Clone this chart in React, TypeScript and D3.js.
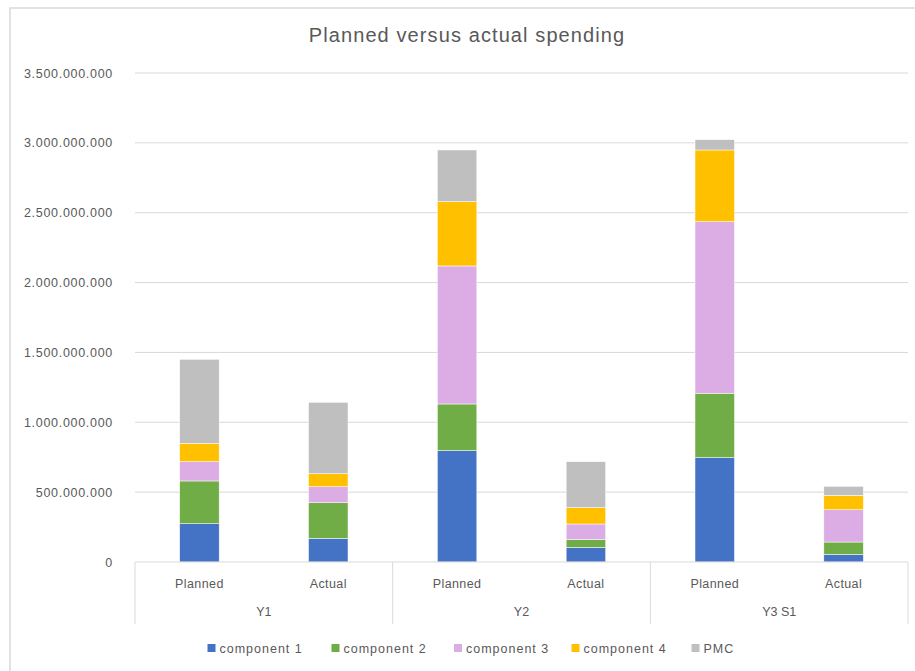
import React from "react";
import * as d3 from "d3";

const groups = ["Y1", "Y2", "Y3 S1"];
const kinds = ["Planned", "Actual"];
const seriesNames = ["component 1", "component 2", "component 3", "component 4", "PMC"];
const colors = ["#4472C4", "#70AD47", "#DCADE5", "#FFC000", "#BFBFBF"];
const yTicks = [0, 500000000, 1000000000, 1500000000, 2000000000, 2500000000, 3000000000, 3500000000];

// values in millions, order: Y1 Planned, Y1 Actual, Y2 Planned, Y2 Actual, Y3 S1 Planned, Y3 S1 Actual
const component1 = [274, 170, 797, 105, 747, 55];
const component2 = [306, 254, 334, 55, 461, 88];
const component3 = [138, 115, 988, 112, 1228, 231];
const component4 = [132, 93, 460, 117, 513, 103];
const pmc = [601, 511, 370, 329, 74, 65];

const W = 915;
const H = 671;
const left = 135;
const right = 908;
const top = 73;
const bottom = 562;
const font = "'Liberation Sans', Arial, sans-serif";
const textColor = "#595959";

export default function App() {
  const seriesArrays = [component1, component2, component3, component4, pmc];
  const rows = groups.flatMap((g, gi) =>
    kinds.map((k, ki) => {
      const idx = gi * 2 + ki;
      const row: any = { key: `${g}|${k}`, group: g, kind: k };
      seriesNames.forEach((s, si) => (row[s] = seriesArrays[si][idx] * 1e6));
      return row;
    })
  );
  const stack = d3.stack<any>().keys(seriesNames)(rows);

  const y = d3.scaleLinear().domain([0, 3500000000]).range([bottom, top]);
  const xg = d3.scaleBand().domain(groups).range([left, right]).paddingInner(0).paddingOuter(0);
  const xk = d3.scaleBand().domain(kinds).range([0, xg.bandwidth()]).paddingInner(0).paddingOuter(0);
  const barW = 39.5;
  const fmt = (v: number) => (v === 0 ? "0" : d3.format(",")(v).replace(/,/g, "."));

  const legendX = [207.5, 331.5, 454, 571.5, 691.5];

  return (
    <div style={{ position: "absolute", left: 0, top: 0 }}>
      <svg width={W} height={H} style={{ display: "block", background: "#fff" }}>
        <rect x={10} y={8} width={W} height={H} fill="#fff" stroke="#d9d9d9" strokeWidth={1.5} />
        <text x={467} y={42} textAnchor="middle" fontFamily={font} fontSize={20} fill={textColor} letterSpacing={1.1}>
          Planned versus actual spending
        </text>
        {yTicks.map((t) => (
          <g key={t}>
            {t > 0 && <line x1={left} x2={right} y1={y(t)} y2={y(t)} stroke="#d9d9d9" strokeWidth={1} />}
            <text x={113} y={y(t) + 4.5} textAnchor="end" fontFamily={font} fontSize={12.5} fill={textColor} letterSpacing={0.7}>
              {fmt(t)}
            </text>
          </g>
        ))}
        {stack.map((s, si) =>
          s.map((d: any) => {
            const cx = (xg(d.data.group) as number) + (xk(d.data.kind) as number) + xk.bandwidth() / 2;
            return (
              <rect
                key={`${si}-${d.data.key}`}
                x={cx - barW / 2}
                y={y(d[1])}
                width={barW}
                height={y(d[0]) - y(d[1])}
                fill={colors[si]}
                stroke="#ffffff"
                strokeWidth={0.5}
              />
            );
          })
        )}
        <line x1={left} x2={right} y1={bottom} y2={bottom} stroke="#d9d9d9" strokeWidth={1} />
        {[...groups.map((g) => xg(g) as number), right].map((xv, i) => (
          <line key={i} x1={xv} x2={xv} y1={bottom} y2={624} stroke="#d9d9d9" strokeWidth={1} />
        ))}
        {groups.map((g) => (
          <g key={g}>
            {kinds.map((k) => (
              <text
                key={k}
                x={(xg(g) as number) + (xk(k) as number) + xk.bandwidth() / 2}
                y={588}
                textAnchor="middle"
                fontFamily={font}
                fontSize={12.5}
                fill={textColor}
                letterSpacing={0.4}
              >
                {k}
              </text>
            ))}
            <text x={(xg(g) as number) + xg.bandwidth() / 2} y={616} textAnchor="middle" fontFamily={font} fontSize={12.5} fill={textColor}>
              {g}
            </text>
          </g>
        ))}
        {seriesNames.map((s, i) => (
          <g key={s}>
            <rect x={legendX[i]} y={644} width={8} height={8} fill={colors[i]} />
            <text x={legendX[i] + 12} y={652.5} fontFamily={font} fontSize={12.5} fill={textColor} letterSpacing={1}>
              {s}
            </text>
          </g>
        ))}
      </svg>
    </div>
  );
}
